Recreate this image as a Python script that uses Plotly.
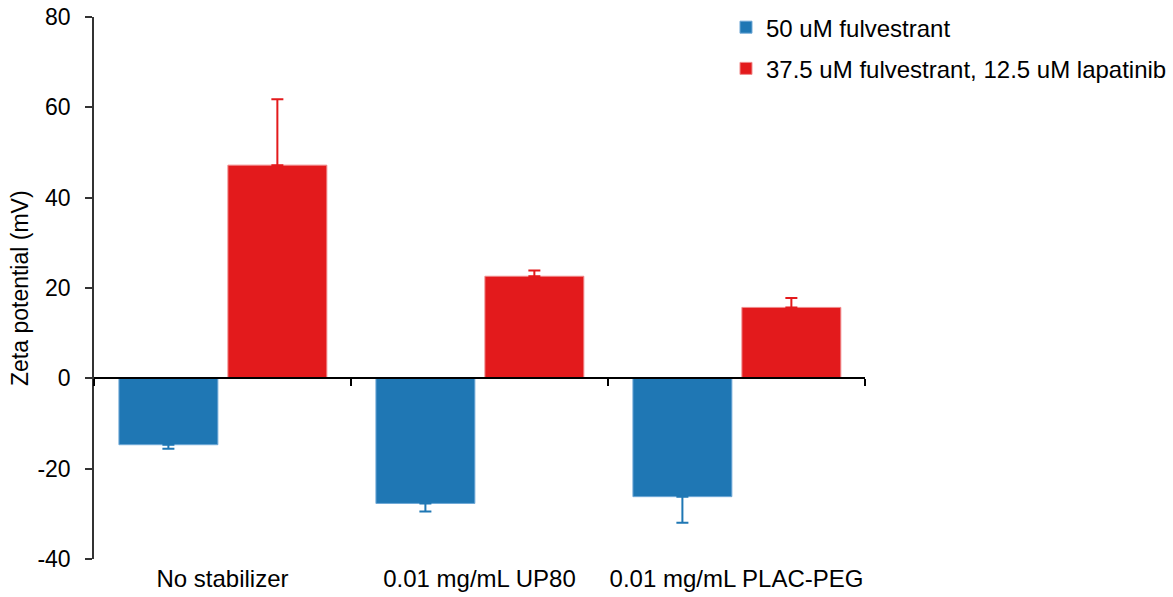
import plotly.graph_objects as go

categories = ["No stabilizer", "0.01 mg/mL UP80", "0.01 mg/mL PLAC-PEG"]
series_names = ["50 uM fulvestrant", "37.5 uM fulvestrant, 12.5 uM lapatinib"]
fulv_values = [-14.7, -27.7, -26.2]
fulv_err = [0.9, 1.8, 5.8]
combo_values = [47.2, 22.6, 15.7]
combo_err = [14.6, 1.3, 2.1]
y_ticks = [-40, -20, 0, 20, 40, 60, 80]
y_tick_text = ["-40", "-20", "0", "20", "40", "60", "80"]
y_title = "Zeta potential (mV)"

BLUE = "#1F77B4"
RED = "#E31A1C"
FONT = "Liberation Sans, Arial, sans-serif"
pos = list(range(len(categories)))

fig = go.Figure()
fig.add_trace(go.Bar(
    x=pos, y=fulv_values, name=series_names[0],
    width=0.385, offset=-0.403,
    marker=dict(color=BLUE, line=dict(color="#6FA8D6", width=1)),
    error_y=dict(type="data", symmetric=False, array=[0] * 3, arrayminus=fulv_err,
                 color=BLUE, thickness=2, width=6),
    legendgroup="a",
))
fig.add_trace(go.Bar(
    x=pos, y=combo_values, name=series_names[1],
    width=0.385, offset=0.021,
    marker=dict(color=RED, line=dict(color="#F08A8B", width=1)),
    error_y=dict(type="data", symmetric=False, array=combo_err, arrayminus=[0] * 3,
                 color=RED, thickness=2, width=6),
    legendgroup="b",
))
# helper trace for the zero-line category axis
fig.add_trace(go.Scatter(x=[None], y=[None], xaxis="x2", yaxis="y",
                         showlegend=False, hoverinfo="skip"))

fig.update_layout(
    template="none",
    width=1173, height=597,
    margin=dict(l=94, r=308, t=17, b=38, autoexpand=False),
    plot_bgcolor="white", paper_bgcolor="white",
    barmode="overlay",
    font=dict(family=FONT, color="black"),
    showlegend=True,
    legend=dict(x=0.8197, xanchor="left", y=1.022, yanchor="top",
                font=dict(size=24, family=FONT, color="black"),
                traceorder="grouped", tracegroupgap=7,
                bgcolor="rgba(0,0,0,0)", borderwidth=0),
    xaxis=dict(range=[-0.5, 2.5], tickvals=pos, ticktext=categories,
               showline=False, ticks="", showgrid=False, zeroline=False,
               automargin=False, ticklabelstandoff=3,
               tickfont=dict(size=24, family=FONT, color="black")),
    xaxis2=dict(overlaying="x", anchor="free", position=1 / 3,
                range=[-0.5, 2.5], tickvals=[-0.5, 0.5, 1.5, 2.5],
                showticklabels=False, ticks="outside", ticklen=7, tickwidth=2,
                tickcolor="black", showline=True, linecolor="black", linewidth=2,
                showgrid=False, zeroline=False, automargin=False),
    yaxis=dict(range=[-40, 80], tickvals=y_ticks, ticktext=y_tick_text,
               ticks="outside", ticklen=7,
               tickwidth=1.5, tickcolor="#333333", showline=True,
               linecolor="#333333", linewidth=1.5, showgrid=False, zeroline=False,
               ticklabelstandoff=10, automargin=False,
               tickfont=dict(size=23, family=FONT, color="black")),
    annotations=[dict(text=y_title, textangle=-90, xref="paper", yref="paper",
                      x=-74 / 771, y=0.5, xanchor="center", yanchor="middle",
                      showarrow=False,
                      font=dict(size=23, family=FONT, color="black"))],
)

fig.write_html("out.html")
